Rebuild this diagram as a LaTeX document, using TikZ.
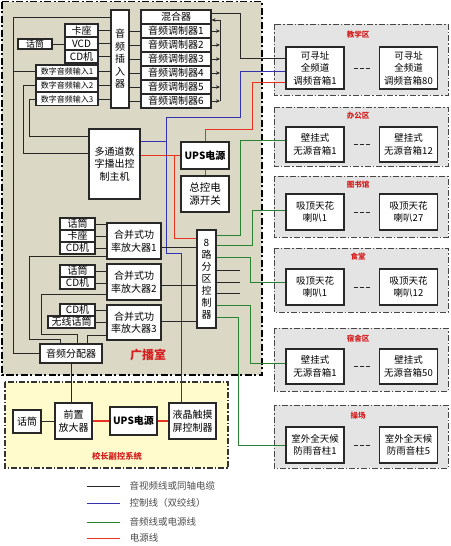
\documentclass[tikz,border=0pt]{standalone}
\usepackage{fontspec}
\newfontfamily\cjk{Noto Sans CJK SC}
\usetikzlibrary{arrows.meta}
\definecolor{boxc}{RGB}{40,40,40}
\definecolor{linec}{RGB}{40,40,40}
\definecolor{bluec}{RGB}{50,50,175}
\definecolor{greenc}{RGB}{40,130,50}
\definecolor{redc}{RGB}{230,50,30}
\definecolor{roomfill}{RGB}{219,217,198}
\definecolor{yelfill}{RGB}{255,251,205}
\definecolor{zonefill}{RGB}{228,228,228}
\definecolor{zonec}{RGB}{70,70,70}
\definecolor{labred}{RGB}{215,30,30}
\newcommand\myfs[2]{\fontsize{#1}{#2}\selectfont}
\tikzset{
 bx/.style={draw=boxc, fill=white, line width=1.1pt, inner sep=0pt, align=center, font=\cjk\myfs{10}{12.5}},
 ln/.style={draw=linec, line width=0.7pt},
 bl/.style={draw=bluec, line width=0.8pt},
 gr/.style={draw=greenc, line width=0.8pt},
 rd/.style={draw=redc, line width=0.9pt},
 arr/.style={-{Stealth[length=4pt,width=3.5pt]}},
 zone/.style={draw=zonec, fill=zonefill, line width=1pt, dash pattern=on 6pt off 2pt on 1.5pt off 2pt},
 zlab/.style={text=labred, font=\cjk\bfseries\myfs{7.5}{9}},
 dl/.style={draw=boxc, line width=1pt, dash pattern=on 4pt off 2pt},
 leg/.style={font=\cjk\myfs{9.5}{11}, text=black!70, anchor=west},
}
\begin{document}
\begin{tikzpicture}[x=1pt,y=-1pt]
\useasboundingbox (0,0) rectangle (450,546);
\fill[white] (0,0) rectangle (450,546);
% regions
\draw[fill=roomfill, draw=black, line width=1.6pt, dash pattern=on 7pt off 2.5pt on 2pt off 2.5pt] (2,1.5) rectangle (262,375);
\draw[fill=yelfill, draw=black!80, line width=1.1pt, dash pattern=on 6pt off 2pt on 1.5pt off 2pt] (5,382) rectangle (228,468);
\draw[zone] (274,24) rectangle (448,95);
\draw[zone] (274,107) rectangle (448,166);
\draw[zone] (274,176) rectangle (448,237);
\draw[zone] (274,248) rectangle (448,312);
\draw[zone] (274,328) rectangle (448,391);
\draw[zone] (274,405) rectangle (448,468);
\node[zlab] (zl1) at (358,35) {教学区};
\node[zlab] (zl2) at (358,116) {办公区};
\node[zlab] (zl3) at (358,185) {图书馆};
\node[zlab] (zl4) at (358,257) {食堂};
\node[zlab] (zl5) at (358,339) {宿舍区};
\node[zlab] (zl6) at (358,416) {操场};
\node[text=labred, font=\cjk\bfseries\myfs{12}{14}] (room) at (148,355) {广播室};
\node[text=labred, font=\cjk\bfseries\myfs{8.3}{10}] (sub) at (117,456) {校长副控系统};

% top-left sources
\node[bx, minimum width=18, minimum height=98] (jin) at (120,59) {音\\频\\插\\入\\器};
\node[bx, minimum width=70, minimum height=14] (mix) at (176,17) {混合器};
\foreach \i/\y in {1/31,2/45,3/59,4/73,5/87,6/101}
  \node[bx, minimum width=70, minimum height=14] (mod\i) at (176,\y) {音频调制器\i};
\node[bx, minimum width=33, minimum height=13] (kazuo) at (81.5,30.5) {卡座};
\node[bx, minimum width=33, minimum height=13] (vcd) at (81.5,43.5) {VCD};
\node[bx, minimum width=33, minimum height=13] (cd) at (81.5,56.5) {CD机};
\node[bx, minimum width=34, minimum height=10, font=\cjk\myfs{9}{10}] (mic) at (35,44) {话筒};
\node[bx, minimum width=62, minimum height=13, font=\cjk\myfs{8}{10}] (din1) at (67,71.5) {数字音频输入1};
\node[bx, minimum width=62, minimum height=13, font=\cjk\myfs{8}{10}] (din2) at (67,85.5) {数字音频输入2};
\node[bx, minimum width=62, minimum height=13, font=\cjk\myfs{8}{10}] (din3) at (67,99) {数字音频输入3};
\node[bx, minimum width=51, minimum height=70] (host) at (114.5,164) {多通道数\\字播出控\\制主机};
\node[bx, minimum width=48, minimum height=27] (ups) at (205,155.5) {\bfseries UPS电源};
\node[bx, minimum width=48, minimum height=36, font=\cjk\myfs{10.5}{13}] (zk) at (205,194) {总控电\\源开关};
\node[bx, minimum width=19, minimum height=98, font=\cjk\myfs{10}{12}] (eight) at (206.5,279) {8\\路\\分\\区\\控\\制\\器};

% amplifier groups
\node[bx, minimum width=35, minimum height=12] (g1mic) at (77.5,224) {话筒};
\node[bx, minimum width=35, minimum height=12] (g1ka) at (77.5,236) {卡座};
\node[bx, minimum width=35, minimum height=12] (g1cd) at (77.5,248) {CD机};
\node[bx, minimum width=54, minimum height=36] (amp1) at (134,241) {合并式功\\率放大器1};
\node[bx, minimum width=35, minimum height=12] (g2mic) at (77.5,271) {话筒};
\node[bx, minimum width=35, minimum height=12] (g2cd) at (77.5,283) {CD机};
\node[bx, minimum width=54, minimum height=36] (amp2) at (134,282) {合并式功\\率放大器2};
\node[bx, minimum width=35, minimum height=12] (g3cd) at (77.5,310) {CD机};
\node[bx, minimum width=47, minimum height=12] (g3wx) at (71.5,322) {无线话筒};
\node[bx, minimum width=54, minimum height=35] (amp3) at (134,322.5) {合并式功\\率放大器3};
\node[bx, minimum width=62, minimum height=19] (dist) at (71,353.5) {音频分配器};

% lower system
\node[bx, minimum width=28, minimum height=23] (lmic) at (27,421.5) {话筒};
\node[bx, minimum width=37, minimum height=36] (pre) at (73.5,421) {前置\\放大器};
\node[bx, minimum width=47, minimum height=28] (ups2) at (133.5,421) {\bfseries UPS电源};
\node[bx, minimum width=47, minimum height=36] (lcd) at (192.5,421) {液晶触摸\\屏控制器};

% right zones
\tikzset{zb/.style={bx, minimum width=58, font=\cjk\myfs{9.5}{12.5}}}
\node[zb, minimum height=42] (jx1) at (315,68) {可寻址\\全频道\\调频音箱1};
\node[zb, minimum height=42] (jx2) at (408.5,68) {可寻址\\全频道\\调频音箱80};
\node[zb, minimum height=35] (bg1) at (315,144.5) {壁挂式\\无源音箱1};
\node[zb, minimum height=35] (bg2) at (408.5,144.5) {壁挂式\\无源音箱12};
\node[zb, minimum height=36] (ts1) at (315,212) {吸顶天花\\喇叭1};
\node[zb, minimum height=36] (ts2) at (408.5,212) {吸顶天花\\喇叭27};
\node[zb, minimum height=36] (st1) at (315,287) {吸顶天花\\喇叭1};
\node[zb, minimum height=36] (st2) at (408.5,287) {吸顶天花\\喇叭12};
\node[zb, minimum height=35] (ss1) at (315,366.5) {壁挂式\\无源音箱1};
\node[zb, minimum height=35] (ss2) at (408.5,366.5) {壁挂式\\无源音箱50};
\node[zb, minimum height=36] (cc1) at (315,445) {室外全天候\\防雨音柱1};
\node[zb, minimum height=36] (cc2) at (408.5,445) {室外全天候\\防雨音柱5};
\foreach \a/\b in {jx1/jx2,bg1/bg2,ts1/ts2,st1/st2,ss1/ss2,cc1/cc2}
  \draw[dl] ([xshift=9pt]\a.east) -- ([xshift=-8pt]\b.west);

% ---- connectors: top-left
\draw[ln] (mic.east) -- (mic.east -| vcd.west);
\foreach \n in {kazuo,vcd,cd,din1,din2,din3}
  \draw[ln] (\n.east) -- (\n.east -| jin.west);
\foreach \i in {1,...,6}
  \draw[ln] (jin.east |- mod\i) -- (mod\i.west);
\coordinate (busT) at (220,20);
\coordinate (busB) at (220,101);
\draw[ln] (busT) -- (busB);
\draw[ln, arr] (busT) -- (busT -| mix.east);
\foreach \i in {1,...,6}
  \draw[ln, arr] (mod\i.east) -- (mod\i.east -| busT);
\coordinate (mo) at (240,13);
\coordinate (mo2) at (240,58);
\draw[ln] (mo -| mix.east) -- (mo) -- (mo2) -- (mo2 -| jx1.west);
% return from distributor
\coordinate (rt) at (13,17);
\draw[ln] (dist.west) -- (dist.west -| rt) -- (rt) -- (rt -| jin.west);
\draw[ln] (din1.west) -- (din1.west -| rt);
% digital inputs to host
\coordinate (e2) at (23,153);
\coordinate (e3) at (29,136);
\draw[ln] (din2.west) -- (din2.west -| e2) -- (e2) -- (e2 -| host.west);
\draw[ln] (din3.west) -- (din3.west -| e3) -- (e3) -- (e3 -| host.west);
% blue control
\coordinate (b1) at (166,141);
\coordinate (b2) at (166,117);
\coordinate (b3) at (240,117);
\coordinate (b4) at (240,71);
\coordinate (b5) at (166,253);
\coordinate (b6) at (181,253);
\draw[bl] (b1 -| host.east) -- (b1);
\draw[bl] (b5) -- (b2) -- (b3) -- (b4) -- (b4 -| jx1.west);
\draw[bl] (b5) -- (b6) -- (b6 |- lcd.north);
% red power
\coordinate (r1) at (174,155);
\coordinate (r2) at (174,238);
\coordinate (r3) at (205,129);
\coordinate (r4) at (252,129);
\coordinate (r5) at (252,82);
\draw[rd] (r1 -| host.east) -- (r1 -| ups.west);
\draw[rd] (r1) -- (r2) -- (r2 -| eight.west);
\draw[rd] (ups.south) -- (zk.north);
\draw[rd] (ups.north) -- (r3) -- (r4) -- (r5) -- (r5 -| jx1.west);
% green zone lines
\coordinate (ga) at (240,235); \coordinate (ga2) at (240,140);
\coordinate (gb) at (252,245); \coordinate (gb2) at (252,210);
\coordinate (gc) at (250,257); \coordinate (gc2) at (250,282);
\coordinate (ge) at (250,305); \coordinate (ge2) at (250,363);
\coordinate (gf) at (238,317); \coordinate (gf2) at (238,445);
\draw[gr] (ga -| eight.east) -- (ga) -- (ga2) -- (ga2 -| bg1.west);
\draw[gr] (gb -| eight.east) -- (gb) -- (gb2) -- (gb2 -| ts1.west);
\draw[gr] (gc -| eight.east) -- (gc) -- (gc2) -- (gc2 -| st1.west);
\draw[gr] (ge -| eight.east) -- (ge) -- (ge2) -- (ge2 -| ss1.west);
\draw[gr] (gf -| eight.east) -- (gf) -- (gf2) -- (gf2 -| cc1.west);
\coordinate (s1) at (240,270); \coordinate (s2) at (240,282); \coordinate (s3) at (240,293);
\foreach \s in {s1,s2,s3} \draw[ln] (\s -| eight.east) -- (\s);
% amplifiers
\foreach \n in {g1mic,g1ka,g1cd} \draw[ln] (\n.east) -- (\n.east -| amp1.west);
\foreach \n in {g2mic,g2cd} \draw[ln] (\n.east) -- (\n.east -| amp2.west);
\foreach \n in {g3cd,g3wx} \draw[ln] (\n.east) -- (\n.east -| amp3.west);
\coordinate (a1) at (0,247); \coordinate (a2) at (0,285); \coordinate (a3) at (0,321);
\draw[ln] (amp1.east |- a1) -- (eight.west |- a1);
\draw[ln] (amp2.east |- a2) -- (eight.west |- a2);
\draw[ln] (amp3.east |- a3) -- (eight.west |- a3);
\coordinate (d1) at (29,256); \coordinate (d1b) at (29,339); \coordinate (d1c) at (60,339);
\coordinate (d2) at (41,294); \coordinate (d2b) at (41,334); \coordinate (d2c) at (77,334);
\coordinate (d3) at (87,335);
\draw[ln] (amp1.west |- d1) -- (d1) -- (d1b) -- (d1c) -- (d1c |- dist.north);
\draw[ln] (amp2.west |- d2) -- (d2) -- (d2b) -- (d2c) -- (d2c |- dist.north);
\draw[ln] (amp3.west |- d3) -- (d3) -- (d3 |- dist.north);
% lower
\draw[ln] (dist.south) -- (dist.south |- pre.north);
\draw[ln] (lmic.east) -- (lmic.east -| pre.west);
\draw[rd, line width=1.3pt] (pre.east) -- (ups2.west);
\draw[rd, line width=1.3pt] (ups2.east) -- (lcd.west);

% legend
\coordinate (L1) at (87,486); \coordinate (L2) at (87,503);
\coordinate (L3) at (87,522); \coordinate (L4) at (87,538);
\draw[draw=black!85, line width=0.8pt] (L1) -- ++(33,0) node[leg, xshift=6pt] (t1) {音视频线或同轴电缆};
\draw[bl] (L2) -- ++(33,0) node[leg, xshift=6pt] (t2) {控制线（双绞线）};
\draw[gr] (L3) -- ++(33,0) node[leg, xshift=6pt] (t3) {音频线或电源线};
\draw[rd] (L4) -- ++(33,0) node[leg, xshift=6pt] (t4) {电源线};
\end{tikzpicture}
\end{document}
